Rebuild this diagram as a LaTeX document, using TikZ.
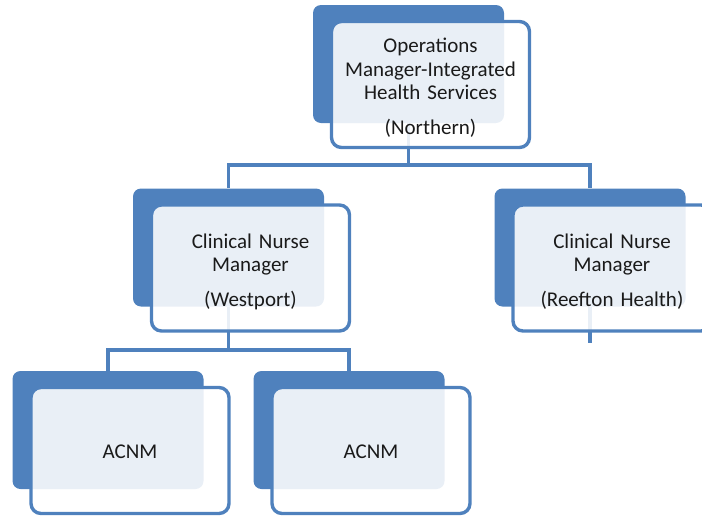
\documentclass[tikz,border=0pt]{standalone}
\usepackage{fontspec}
\setmainfont{Carlito}
\usetikzlibrary{backgrounds,calc}
\definecolor{ob}{HTML}{4F81BD}
\definecolor{txt}{HTML}{1A1A1A}
\begin{document}
\begin{tikzpicture}[x=1pt,y=-1pt,
  backbox/.style={rectangle, rounded corners=8pt, fill=ob, minimum width=191pt, minimum height=118pt, inner sep=0pt},
  frontbox/.style={rectangle, rounded corners=10pt, draw=ob, line width=3.4pt, fill=white, fill opacity=0.88, draw opacity=1, minimum width=198pt, minimum height=126pt, inner sep=0pt},
  lbl/.style={inner sep=0pt, text width=190pt, align=center, font=\fontsize{21}{23.5}\selectfont, text=txt},
  link/.style={draw=ob, line width=3.6pt}]
\useasboundingbox (0,0) rectangle (702,517);
\clip (0,0) rectangle (702,517);
% back boxes
\node[backbox] (topB) at (408.5,64) {};
\node[backbox] (cnmwB) at (228.5,247.5) {};
\node[backbox] (cnmrB) at (590,247.5) {};
\node[backbox] (a1B) at (108,430) {};
\node[backbox] (a2B) at (349,430) {};
% front boxes
\node[frontbox] (top) at ($(topB)+(22,20.5)$) {};
\node[frontbox] (cnmw) at ($(cnmwB)+(22,20.5)$) {};
\node[frontbox] (cnmr) at ($(cnmrB)+(22,20.5)$) {};
\node[frontbox] (a1) at ($(a1B)+(22,20.5)$) {};
\node[frontbox] (a2) at ($(a2B)+(22,20.5)$) {};
% texts
\node[lbl] (topT) at ($(top)+(0,3)$) {Operations\\Manager-Integrated\\Health Services\\[11pt](Northern)};
\node[lbl] (cnmwT) at ($(cnmw)+(0,3.5)$) {Clinical Nurse\\Manager\\[11pt](Westport)};
\node[lbl] (cnmrT) at ($(cnmr)+(0,3.5)$) {Clinical Nurse\\Manager\\[11pt](Reefton Health)};
\node[lbl] (a1T) at ($(a1)+(0,1)$) {ACNM};
\node[lbl] (a2T) at ($(a2)+(0,1)$) {ACNM};
% connectors
\coordinate (bus1) at (0,165);
\coordinate (bus2) at (0,350);
\coordinate (stub) at (590,343);
\begin{scope}[on background layer]
\draw[link] (topB.south) -- (topB.south |- bus1) -| (cnmwB.north);
\draw[link] (topB.south |- bus1) -| (cnmrB.north);
\draw[link] (cnmwB.south) -- (cnmwB.south |- bus2) -| (a1B.north);
\draw[link] (cnmwB.south |- bus2) -| (a2B.north);
\draw[link] (cnmrB.south) -- (stub);
\end{scope}
\end{tikzpicture}
\end{document}
